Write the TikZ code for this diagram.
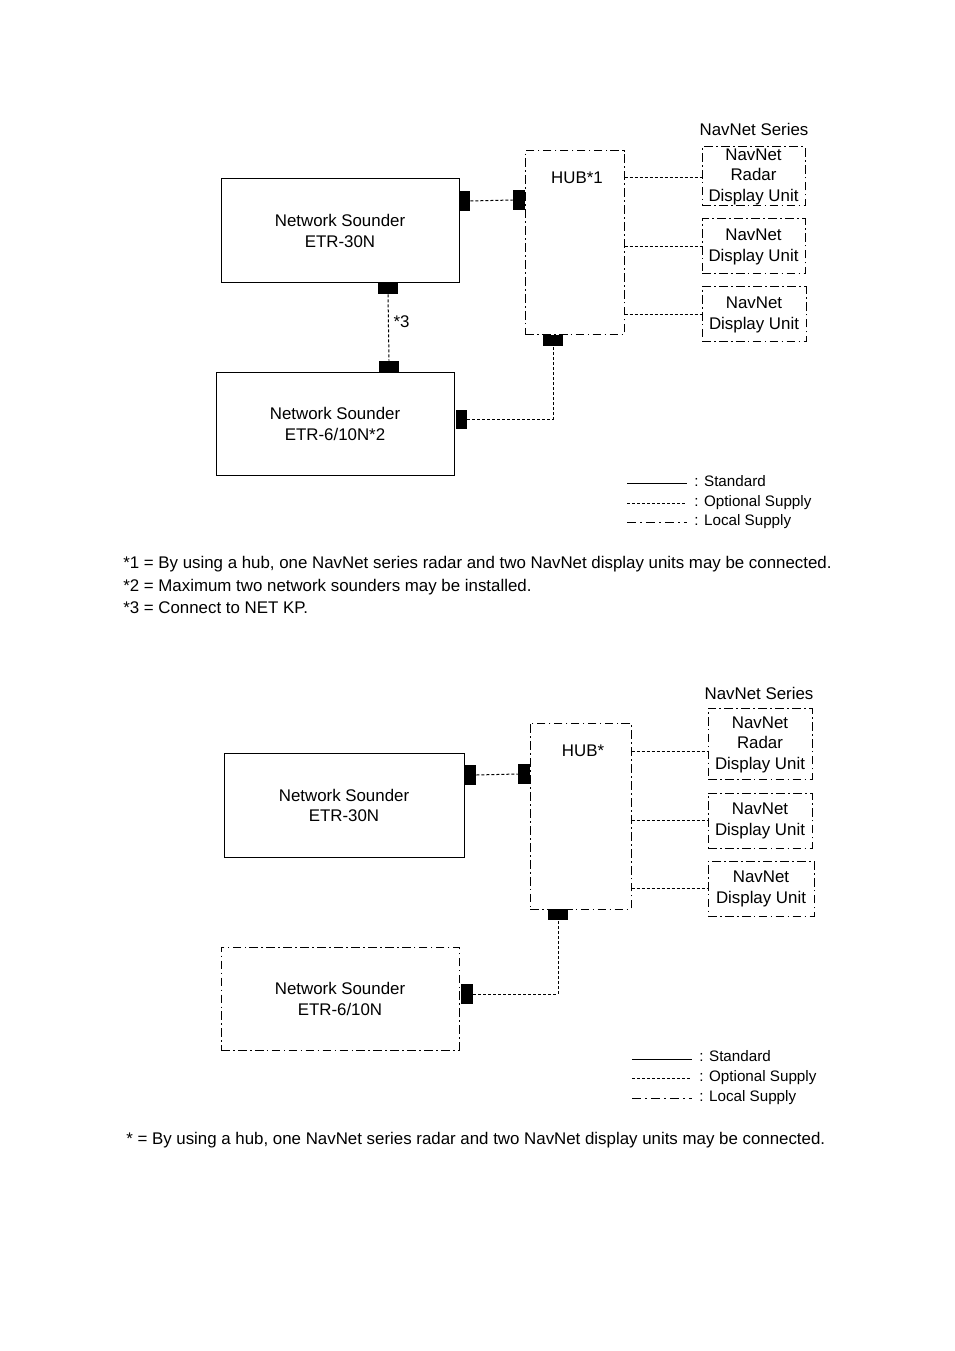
\documentclass[tikz,border=0pt]{standalone}
\usepackage{fontspec}
\setmainfont{Liberation Sans}
\usetikzlibrary{fit}
\begin{document}
\begin{tikzpicture}[x=0.75pt,y=-0.75pt,
  every node/.style={font=\fontsize{12.65}{15.4}\selectfont, inner sep=0pt},
  sbox/.style={draw, line width=0.75pt, fit={#1}, inner sep=0pt},
  lbox/.style={draw, line width=0.75pt, dash pattern=on 6.5pt off 2.5pt on 1.2pt off 2.5pt, fit={#1}, inner sep=0pt},
  btxt/.style={align=center},
  plug/.style={fill=black, draw=none, fit={#1}, inner sep=0pt},
  optline/.style={line width=0.75pt, dash pattern=on 2.25pt off 1.5pt},
  stdline/.style={line width=0.75pt},
  locline/.style={line width=0.75pt, dash pattern=on 7pt off 3pt on 1.2pt off 3pt},
  legtext/.style={anchor=base west, font=\fontsize{11.4}{13}\selectfont},
  foot/.style={anchor=west}
]
\useasboundingbox (0,0) rectangle (954,1351);

% ===== Top diagram =====
\node[sbox={(221,179) (459,283)}] (nsA) {};
\node[btxt] (nsAt) at ([yshift=0pt]nsA.center) {Network Sounder\\ETR-30N};
\node[plug={(459,191) (470,211)}] (nsAr) {};
\node[plug={(378,283) (398,294)}] (nsAb) {};

\node[lbox={(525,151) (624,335)}] (hubA) {};
\node (hubAt) at (577,178) {HUB*1};
\node[plug={(513,190) (525,210)}] (hubAl) {};
\node[plug={(543,335) (563,346)}] (hubAb) {};

\node (serA) at (754,129) {NavNet Series};
\node[lbox={(702,147) (805,206)}] (nrA) {};
\node[btxt] (nrAt) at ([yshift=0pt]nrA.center) {NavNet\\Radar\\Display Unit};
\node[lbox={(702,219) (805,274)}] (ndA1) {};
\node[btxt] (ndA1t) at ([yshift=-0.5pt]ndA1.center) {NavNet\\Display Unit};
\node[lbox={(702,287) (806,342)}] (ndA2) {};
\node[btxt] (ndA2t) at ([yshift=-0.5pt]ndA2.center) {NavNet\\Display Unit};

\node[sbox={(216,373) (454,475)}] (nsB) {};
\node[btxt] (nsBt2) at ([yshift=0pt]nsB.center) {Network Sounder\\ETR-6/10N*2};
\node[plug={(379,361) (399,373)}] (nsBt) {};
\node[plug={(456,410) (467,429)}] (nsBr) {};

\draw[optline] (nsAr.east) -- (hubAl.west);
\draw[optline] (nsAb.south) -- (nsBt.north) node[midway, right=3.5pt, yshift=4.5pt] (s3) {*3};
\draw[optline] (nsBr.east) -| (hubAb.south);
\draw[optline] (hubA.east |- 0,178) -- (nrA.west |- 0,178);
\draw[optline] (hubA.east |- ndA1.west) -- (ndA1.west);
\draw[optline] (hubA.east |- ndA2.west) -- (ndA2.west);

% legend top
\coordinate (lgA1a) at (627,483); \coordinate (lgA1b) at (687,483);
\coordinate (lgA2a) at (627,503); \coordinate (lgA2b) at (687,503);
\coordinate (lgA3a) at (627,522); \coordinate (lgA3b) at (687,522);
\draw[stdline] (lgA1a) -- (lgA1b);
\draw[optline] (lgA2a) -- (lgA2b);
\draw[locline] (lgA3a) -- (lgA3b);
\node[legtext] (ltA1) at (694,486.5) {: Standard};
\node[legtext] (ltA2) at (694,506.5) {: Optional Supply};
\node[legtext] (ltA3) at (694,525.5) {: Local Supply};

\node[foot] (fA1) at (123,564) {*1 = By using a hub, one NavNet series radar and two NavNet display units may be connected.};
\node[foot] (fA2) at (123,587) {*2 = Maximum two network sounders may be installed.};
\node[foot] (fA3) at (123,608) {*3 = Connect to NET KP.};

% ===== Bottom diagram =====
\node[sbox={(224,753) (464,857)}] (nsC) {};
\node[btxt] (nsCt) at ([yshift=-0.5pt]nsC.center) {Network Sounder\\ETR-30N};
\node[plug={(465,765) (476,785)}] (nsCr) {};

\node[lbox={(530,723) (631,909)}] (hubC) {};
\node (hubCt) at (583,751) {HUB*};
\node[plug={(518,764) (530,784)}] (hubCl) {};
\node[plug={(548,909) (568,920)}] (hubCb) {};

\node (serC) at (759,693) {NavNet Series};
\node[lbox={(708,708) (812,779)}] (nrC) {};
\node[btxt] (nrCt) at ([yshift=-0.8pt]nrC.center) {NavNet\\Radar\\Display Unit};
\node[lbox={(708,793) (812,848)}] (ndC1) {};
\node[btxt] (ndC1t) at ([yshift=-0.5pt]ndC1.center) {NavNet\\Display Unit};
\node[lbox={(708,861) (814,916)}] (ndC2) {};
\node[btxt] (ndC2t) at ([yshift=-0.5pt]ndC2.center) {NavNet\\Display Unit};

\node[lbox={(221,947) (459,1050)}] (nsD) {};
\node[btxt] (nsDt) at ([yshift=-0.3pt]nsD.center) {Network Sounder\\ETR-6/10N};
\node[plug={(461,984) (473,1004)}] (nsDr) {};

\draw[optline] (nsCr.east) -- (hubCl.west);
\draw[optline] (nsDr.east) -| (hubCb.south);
\draw[optline] (hubC.east |- 0,751) -- (nrC.west |- 0,751);
\draw[optline] (hubC.east |- 0,820) -- (ndC1.west |- 0,820);
\draw[optline] (hubC.east |- 0,888) -- (ndC2.west |- 0,888);

% legend bottom
\coordinate (lgC1a) at (632,1059); \coordinate (lgC1b) at (692,1059);
\coordinate (lgC2a) at (632,1078); \coordinate (lgC2b) at (692,1078);
\coordinate (lgC3a) at (632,1098); \coordinate (lgC3b) at (692,1098);
\draw[stdline] (lgC1a) -- (lgC1b);
\draw[optline] (lgC2a) -- (lgC2b);
\draw[locline] (lgC3a) -- (lgC3b);
\node[legtext] (ltC1) at (699,1061.5) {: Standard};
\node[legtext] (ltC2) at (699,1081.5) {: Optional Supply};
\node[legtext] (ltC3) at (699,1101.5) {: Local Supply};

\node[foot] (fC1) at (126,1140) {* = By using a hub, one NavNet series radar and two NavNet display units may be connected.};
\end{tikzpicture}
\end{document}
